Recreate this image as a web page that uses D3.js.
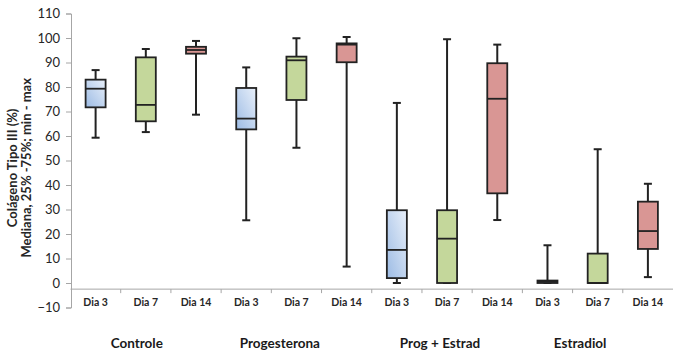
<!DOCTYPE html>
<html>
<head>
<meta charset="utf-8">
<script src="https://cdn.jsdelivr.net/npm/d3@7"></script>
<style>
  body { margin: 0; background: #fff; }
  svg { display: block; }
  text { font-family: Lato, "Open Sans", sans-serif; }
</style>
</head>
<body>
<div id="chart"></div>
<script>
// categories, in order along the x axis
var days = ["Dia 3", "Dia 7", "Dia 14", "Dia 3", "Dia 7", "Dia 14", "Dia 3", "Dia 7", "Dia 14", "Dia 3", "Dia 7", "Dia 14"];
var groups = ["Controle", "Progesterona", "Prog + Estrad", "Estradiol"];
// where each group label sits, in category units from the left edge
var groupLabelAt = [1.32, 4.17, 7.36, 10.15];

// box values
var mins    = [59.3, 61.6, 68.7, 25.6, 55.2,  6.7,  0.0,  0.0, 25.7, 0.0,  0.0,  2.4];
var q1s     = [71.7, 66.0, 93.6, 62.7, 74.7, 90.1,  2.0,  0.0, 36.6, 0.0,  0.0, 13.9];
var medians = [79.3, 72.7, 95.1, 67.1, 90.9, 97.3, 13.5, 18.1, 75.2, 0.5,  0.0, 21.2];
var q3s     = [83.0, 92.1, 96.4, 79.6, 92.4, 97.8, 29.7, 29.7, 89.7, 1.0, 12.0, 33.2];
var maxs    = [86.9, 95.5, 98.8, 88.0, 99.9, 100.4, 73.5, 99.5, 97.3, 15.4, 54.6, 40.5];

var yTicks = [-10, 0, 10, 20, 30, 40, 50, 60, 70, 80, 90, 100, 110];
var axisCross = -2.5;

var W = 673, H = 355;

var svg = d3.select("#chart").append("svg")
	.attr("width", W)
	.attr("height", H);

var defs = svg.append("defs");
var grad = defs.append("linearGradient")
	.attr("id", "blueGrad")
	.attr("x1", "0").attr("y1", "1")
	.attr("x2", "1").attr("y2", "0");
grad.append("stop").attr("offset", "0").attr("stop-color", "#9cbbe4");
grad.append("stop").attr("offset", "1").attr("stop-color", "#e9f0fa");

var fills = { "Dia 3": "url(#blueGrad)", "Dia 7": "#c4d79b", "Dia 14": "#d99694" };

var x = d3.scaleBand()
	.domain(d3.range(days.length))
	.range([70.5, 673])
	.padding(0);

var y = d3.scaleLinear()
	.domain([-10, 110])
	.range([307.5, 13.5]);

// y axis
var yAxis = svg.append("g")
	.attr("transform", "translate(71,0)")
	.call(d3.axisLeft(y).tickValues(yTicks).tickSize(5).tickPadding(6));
yAxis.select(".domain").attr("stroke", "#a6a6a6");
yAxis.selectAll(".tick line").attr("stroke", "#a6a6a6");
yAxis.selectAll(".tick text")
	.attr("font-size", 13)
	.attr("font-family", "Lato, sans-serif")
	.attr("fill", "#262626");

// y title
var title = svg.append("text")
	.attr("transform", "translate(17," + y(47) + ") rotate(-90)")
	.attr("text-anchor", "middle")
	.attr("font-weight", "bold")
	.attr("font-size", 13)
	.attr("fill", "#262626");
title.append("tspan").attr("x", 0).attr("dy", 0).text("Colágeno Tipo III (%)");
title.append("tspan").attr("x", 0).attr("dy", 13.5).text("Mediana, 25% -75%; min - max");

// horizontal category axis
svg.append("line")
	.attr("x1", 70.5).attr("x2", 673)
	.attr("y1", y(axisCross)).attr("y2", y(axisCross))
	.attr("stroke", "#a6a6a6");

svg.selectAll(".xtick")
	.data(d3.range(1, days.length))
	.enter()
	.append("line")
	.attr("class", "xtick")
	.attr("x1", function(d) { return x(d); })
	.attr("x2", function(d) { return x(d); })
	.attr("y1", y(axisCross))
	.attr("y2", y(axisCross) + 4)
	.attr("stroke", "#a6a6a6");

svg.selectAll(".dayLabel")
	.data(days)
	.enter()
	.append("text")
	.attr("class", "dayLabel")
	.attr("x", function(d, i) { return x(i) + x.bandwidth() / 2; })
	.attr("y", 306)
	.attr("text-anchor", "middle")
	.attr("font-size", 10.5)
	.attr("font-weight", "bold")
	.attr("fill", "#262626")
	.text(function(d) { return d; });

svg.selectAll(".groupLabel")
	.data(groups)
	.enter()
	.append("text")
	.attr("class", "groupLabel")
	.attr("x", function(d, i) { return 70.5 + groupLabelAt[i] * x.bandwidth(); })
	.attr("y", 348)
	.attr("text-anchor", "middle")
	.attr("font-size", 13.5)
	.attr("font-weight", "bold")
	.attr("fill", "#1a1a1a")
	.text(function(d) { return d; });

// boxes
var boxW = 20, capW = 8;
var data = days.map(function(d, i) {
	return { day: d, i: i, min: mins[i], q1: q1s[i], med: medians[i], q3: q3s[i], max: maxs[i] };
});

var box = svg.selectAll(".box")
	.data(data)
	.enter()
	.append("g")
	.attr("class", "box")
	.attr("transform", function(d) { return "translate(" + (x(d.i) + x.bandwidth() / 2) + ",0)"; });

var ink = "#222";

// whiskers
box.append("line")
	.attr("x1", 0).attr("x2", 0)
	.attr("y1", function(d) { return y(d.max); })
	.attr("y2", function(d) { return y(d.q3); })
	.attr("stroke", ink).attr("stroke-width", 2);
box.append("line")
	.attr("x1", 0).attr("x2", 0)
	.attr("y1", function(d) { return y(d.q1); })
	.attr("y2", function(d) { return y(d.min); })
	.attr("stroke", ink).attr("stroke-width", 2);
box.append("line")
	.attr("x1", -capW / 2).attr("x2", capW / 2)
	.attr("y1", function(d) { return y(d.max); })
	.attr("y2", function(d) { return y(d.max); })
	.attr("stroke", ink).attr("stroke-width", 2);
box.append("line")
	.attr("x1", -capW / 2).attr("x2", capW / 2)
	.attr("y1", function(d) { return y(d.min); })
	.attr("y2", function(d) { return y(d.min); })
	.attr("stroke", ink).attr("stroke-width", 2);

// box body
box.append("rect")
	.attr("x", -boxW / 2)
	.attr("width", boxW)
	.attr("y", function(d) { return y(d.q3); })
	.attr("height", function(d) { return Math.max(y(d.q1) - y(d.q3), 0.5); })
	.attr("fill", function(d) { return fills[d.day]; })
	.attr("stroke", ink)
	.attr("stroke-width", 1.8);

// median
box.append("line")
	.attr("x1", -boxW / 2).attr("x2", boxW / 2)
	.attr("y1", function(d) { return y(d.med); })
	.attr("y2", function(d) { return y(d.med); })
	.attr("stroke", ink).attr("stroke-width", 1.8);
</script>
</body>
</html>
